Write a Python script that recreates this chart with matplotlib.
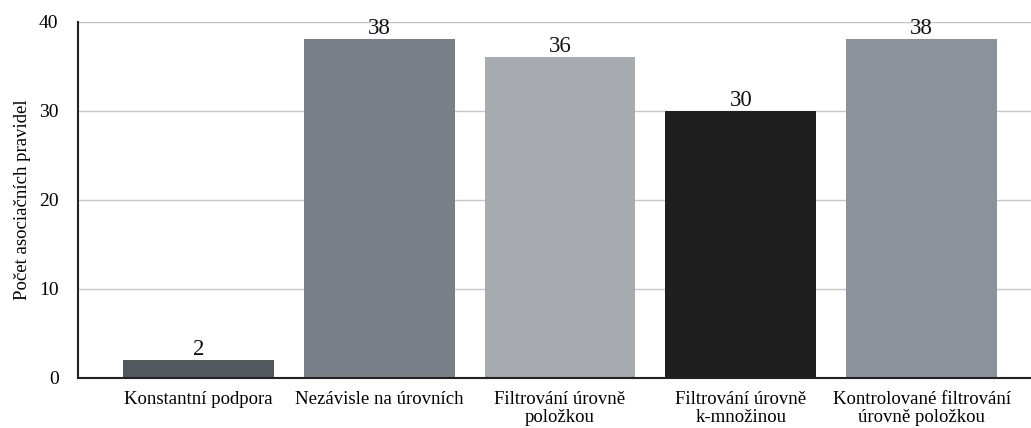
import matplotlib
matplotlib.use("Agg")
import matplotlib.pyplot as plt

categories = [
    "Konstantní podpora",
    "Nezávisle na úrovních",
    "Filtrování úrovně\npoložkou",
    "Filtrování úrovně\nk-množinou",
    "Kontrolované filtrování\núrovně položkou",
]
counts = [2, 38, 36, 30, 38]
bar_colors = ["#525860", "#7a8089", "#a7aaae", "#1f1f1f", "#8c929c"]
y_ticks = [0, 10, 20, 30, 40]

plt.rcParams["font.family"] = ["Liberation Serif", "DejaVu Serif"]

fig = plt.figure(figsize=(10.31, 4.28), dpi=100)
ax = fig.add_axes([78 / 1031, 1 - 378 / 428, 1 - 78 / 1031, (378 - 21.5) / 428])

x = range(len(categories))
bars = ax.bar(x, counts, width=0.835, color=bar_colors, zorder=2)

for rect, val in zip(bars, counts):
    ax.annotate(str(val), (rect.get_x() + rect.get_width() / 2, rect.get_height()),
                xytext=(0, 0), textcoords="offset points",
                ha="center", va="bottom", fontsize=16.5, color="#111111")

ax.set_xlim(-0.666, 4.605)
ax.set_ylim(0, 40)
ax.set_yticks(y_ticks)
ax.set_xticks(list(x))
ax.set_xticklabels(categories, fontsize=13.5, linespacing=1.15)
ax.tick_params(axis="y", length=0, pad=14, labelsize=14)
ax.tick_params(axis="x", length=0, pad=9)

ax.yaxis.grid(True, color="#c4c4c4", linewidth=1.0, zorder=0)
ax.set_axisbelow(True)

for side in ("top", "right"):
    ax.spines[side].set_visible(False)
for side in ("left", "bottom"):
    ax.spines[side].set_color("#222222")
    ax.spines[side].set_linewidth(1.5)
    ax.spines[side].set_zorder(3)

ax.set_ylabel("Počet asociačních pravidel", fontsize=13.5, labelpad=6)

fig.savefig("out.png", dpi=100)
